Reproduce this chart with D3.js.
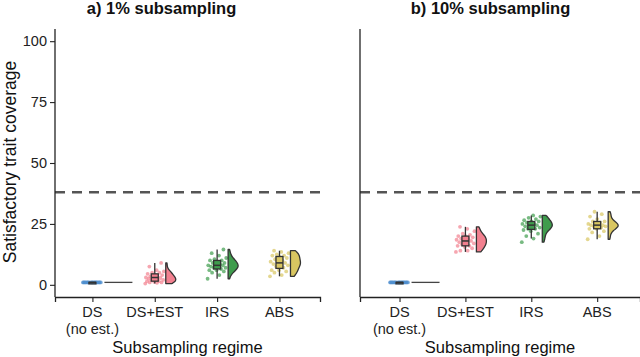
<!DOCTYPE html>
<html>
<head>
<meta charset="utf-8">
<script src="https://cdn.jsdelivr.net/npm/d3@7/dist/d3.min.js"></script>
<style>
  body { margin: 0; background: #fff; }
  svg { font-family: "Liberation Sans", Arial, sans-serif; }
</style>
</head>
<body>
<div id="chart"></div>
<script>
// categories and colours
const regimes = ["DS", "DS+EST", "IRS", "ABS"];
const regimeLabels = [["DS", "(no est.)"], ["DS+EST"], ["IRS"], ["ABS"]];
const colors = ["#4e8fce", "#f2808f", "#3f9c4d", "#d9c661"];
const panelTitles = ["a) 1% subsampling", "b) 10% subsampling"];
const yTicks = [0, 25, 50, 75, 100];
const threshold = 38;

// coverage values per run
const a_DS = [1,1,1,1,1,1,1,1,1,1,1,1,1,1,1,1,1,1,1,1];
const a_DSEST = [0.5,0.8,1,1,1.2,1.5,1.5,2,2,2.2,2.5,2.8,3,3,3.2,3.5,4,4,4.5,5,5,5.5,6,7.5,9];
const a_IRS = [2.5,4,5,5.5,6,6,6.5,7,7,7.5,7.5,8,8,8,8.5,9,9,9.5,10,10,10.5,11,12,13,14.5];
const a_ABS = [3.5,4,5,5.5,6,6,7,7.5,8,8.5,8.5,9,9,9.5,10,10.5,11,11.5,12,12,12.5,13,13.5,14];
const b_DS = [1,1,1,1,1,1,1,1,1,1,1,1,1,1,1,1,1,1,1,1];
const b_DSEST = [13.5,14,14,15,15.5,16,16,16.5,17,17,17.5,18,18,18.5,19,19,19.5,20,20,20.5,21,22,23,23.8];
const b_IRS = [17.5,19,20,21,22,22.5,23,23,23.5,24,24,24.5,24.5,25,25,25.5,26,26,26.5,27,27.5,28,28.5];
const b_ABS = [18.7,20,21.5,22,23,23,23.5,24,24,24,24.5,24.5,25,25,25.5,26,26,27,28,29,30];

const panels = [
  { title: panelTitles[0], groups: [a_DS, a_DSEST, a_IRS, a_ABS], x0: 55, x1: 320, titleX: 161.5, showY: true },
  { title: panelTitles[1], groups: [b_DS, b_DSEST, b_IRS, b_ABS], x0: 360, x1: 640, titleX: 490.5, showY: false }
];

const W = 640, H = 357;
const plotTop = 29, plotBottom = 297;
const svg = d3.select("#chart").append("svg").attr("width", W).attr("height", H);

const y = d3.scaleLinear().domain([-5, 105]).range([plotBottom, plotTop]);

function kde(values, bw, pts) {
  const k = u => Math.exp(-0.5 * u * u) / Math.sqrt(2 * Math.PI);
  return pts.map(p => [p, d3.mean(values, v => k((p - v) / bw)) / bw]);
}

panels.forEach((p, pi) => {
  const g = svg.append("g");
  const x = d3.scaleLinear().domain([0.4, 4.65]).range([p.x0, p.x1]);

  // threshold line
  g.append("line")
    .attr("x1", p.x0).attr("x2", p.x1)
    .attr("y1", y(threshold)).attr("y2", y(threshold))
    .attr("stroke", "#555").attr("stroke-width", 2.5)
    .attr("stroke-dasharray", "10,7");

  p.groups.forEach((vals, gi) => {
    const cx = x(gi + 1);
    const col = colors[gi];
    const sorted = vals.slice().sort(d3.ascending);
    const q1 = d3.quantile(sorted, 0.25), med = d3.quantile(sorted, 0.5), q3 = d3.quantile(sorted, 0.75);
    const iqr = q3 - q1;
    const lo = d3.min(sorted.filter(v => v >= q1 - 1.5 * iqr));
    const hi = d3.max(sorted.filter(v => v <= q3 + 1.5 * iqr));

    // jittered points
    g.append("g").selectAll("circle").data(vals).join("circle")
      .attr("cx", (d, i) => cx + (((i * 0.618034) % 1) - 0.5) * 19)
      .attr("cy", d => y(d))
      .attr("r", 1.9)
      .attr("fill", col).attr("fill-opacity", 0.7);

    // boxplot
    g.append("line").attr("x1", cx).attr("x2", cx)
      .attr("y1", y(lo)).attr("y2", y(hi))
      .attr("stroke", "#333").attr("stroke-width", 1.3);
    g.append("rect")
      .attr("x", cx - 3.5).attr("width", 7)
      .attr("y", y(q3)).attr("height", Math.max(y(q1) - y(q3), 1.5))
      .attr("fill", col).attr("stroke", "#333").attr("stroke-width", 1.3);
    g.append("line").attr("x1", cx - 3.5).attr("x2", cx + 3.5)
      .attr("y1", y(med)).attr("y2", y(med))
      .attr("stroke", "#333").attr("stroke-width", 1.5);

    // half violin
    const vx = cx + 11;
    const mn = d3.min(vals), mx = d3.max(vals);
    if (mx - mn < 1e-6) {
      g.append("line").attr("x1", vx + 1).attr("x2", vx + 29)
        .attr("y1", y(mn)).attr("y2", y(mn))
        .attr("stroke", "#444").attr("stroke-width", 1.3);
    } else {
      const sd = d3.deviation(vals);
      const bw = 0.9 * Math.min(sd, iqr / 1.34) * Math.pow(vals.length, -0.2);
      const pts = d3.range(0, 41).map(i => mn + (mx - mn) * i / 40);
      const dens = kde(vals, bw, pts);
      const dmax = d3.max(dens, d => d[1]);
      const w = d3.scaleLinear().domain([0, dmax]).range([0, 10]);
      const area = d3.area()
        .y(d => y(d[0]))
        .x0(vx)
        .x1(d => vx + w(d[1]))
        .curve(d3.curveBasis);
      g.append("path").datum(dens)
        .attr("d", area)
        .attr("fill", col).attr("stroke", "#333").attr("stroke-width", 1.3)
        .attr("stroke-linejoin", "round");
    }
  });

  // axes
  const xAxis = g.append("g").attr("transform", `translate(0,${plotBottom})`)
    .call(d3.axisBottom(x).tickValues([1, 2, 3, 4]).tickSize(5).tickFormat(""));
  xAxis.select(".domain").attr("stroke", "#222").attr("stroke-width", 1.3);
  xAxis.selectAll(".tick line").attr("stroke", "#222").attr("stroke-width", 1.1);
  regimeLabels.forEach((lines, i) => {
    const t = g.append("text")
      .attr("x", x(i + 1)).attr("y", plotBottom + 20)
      .attr("text-anchor", "middle").attr("font-size", 14.5).attr("fill", "#222");
    lines.forEach((l, j) => t.append("tspan").attr("x", x(i + 1)).attr("dy", j ? 16.5 : 0).text(l));
  });

  const yAxis = g.append("g").attr("transform", `translate(${p.x0},0)`)
    .call(d3.axisLeft(y).tickValues(yTicks).tickSize(p.showY ? 5 : 0).tickPadding(3));
  yAxis.select(".domain").attr("stroke", "#222").attr("stroke-width", 1.3)
    .attr("d", `M0,${plotTop}V${plotBottom}`);
  yAxis.selectAll(".tick line").attr("stroke", "#222").attr("stroke-width", 1.1);
  yAxis.selectAll(".tick text").attr("font-size", 14.5).attr("fill", "#222")
    .attr("font-family", "Liberation Sans, Arial, sans-serif")
    .style("display", p.showY ? null : "none");

  // titles
  g.append("text")
    .attr("x", p.titleX).attr("y", 14)
    .attr("text-anchor", "middle").attr("font-size", 16.5).attr("font-weight", "bold")
    .attr("fill", "#111").text(p.title);
  g.append("text")
    .attr("x", (p.x0 + p.x1) / 2).attr("y", 353)
    .attr("text-anchor", "middle").attr("font-size", 16.5).attr("fill", "#111")
    .text("Subsampling regime");
});

svg.append("text")
  .attr("transform", "translate(15.5,162) rotate(-90)")
  .attr("text-anchor", "middle").attr("font-size", 17.5).attr("fill", "#111")
  .text("Satisfactory trait coverage");
</script>
</body>
</html>
